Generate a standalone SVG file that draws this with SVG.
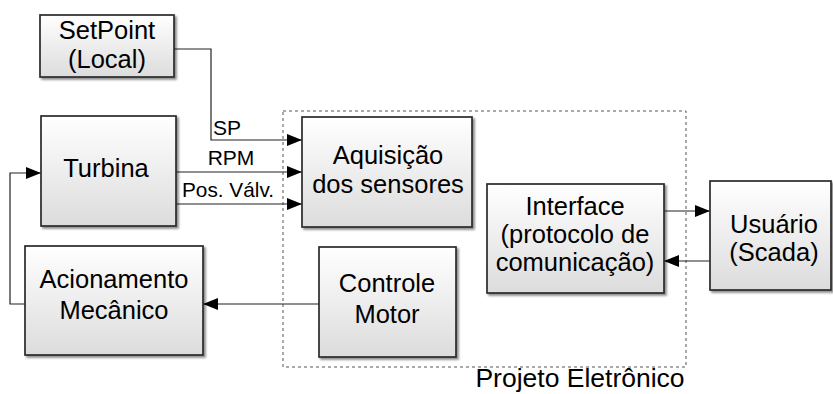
<svg xmlns="http://www.w3.org/2000/svg" width="833" height="394" viewBox="0 0 833 394">
<defs>
<linearGradient id="g" x1="0" y1="0" x2="0" y2="1">
<stop offset="0" stop-color="#ffffff"/>
<stop offset="1" stop-color="#dcdcdc"/>
</linearGradient>
<filter id="sh" x="-10%" y="-10%" width="130%" height="130%">
<feDropShadow dx="2" dy="2" stdDeviation="1.2" flood-color="#000" flood-opacity="0.45"/>
</filter>
<marker id="ah" markerUnits="userSpaceOnUse" markerWidth="16" markerHeight="12" refX="15" refY="6" orient="auto">
<path d="M0,0 L15,6 L0,12 Z" fill="#000"/>
</marker>
</defs>
<style>
.box{fill:url(#g);stroke:#2a2a2a;stroke-width:1.7;filter:url(#sh)}
.t{font-family:"Liberation Sans",Arial,sans-serif;font-size:25.5px;fill:#000;text-anchor:middle}
.lbl{font-family:"Liberation Sans",Arial,sans-serif;font-size:21px;fill:#000}
.ca{fill:none;stroke:#222;stroke-width:1.2;marker-end:url(#ah)}
</style>
<rect x="0" y="0" width="833" height="394" fill="#fff"/>
<g id="frame">
<rect x="283" y="111" width="403" height="256" fill="none" stroke="#555" stroke-width="1" stroke-dasharray="3,3"/>
<text class="t" x="580" y="387" style="font-size:26.5px">Projeto Eletrônico</text>
</g>
<g id="connectors">
<polyline class="ca" points="174,49 211,49 211,140 302,140"/>
<line class="ca" x1="176" y1="172" x2="302" y2="172"/>
<line class="ca" x1="176" y1="204" x2="302" y2="204"/>
<line class="ca" x1="664" y1="211" x2="710" y2="211"/>
<line class="ca" x1="710" y1="261" x2="664" y2="261"/>
<line class="ca" x1="319" y1="304" x2="203" y2="304"/>
<polyline class="ca" points="25,304 10,304 10,173 41,173"/>
<text class="lbl" x="213" y="135">SP</text>
<text class="lbl" x="231" y="165" text-anchor="middle">RPM</text>
<text class="lbl" x="182" y="197" textLength="92" lengthAdjust="spacingAndGlyphs">Pos. Válv.</text>
</g>
<g id="setpoint">
<rect class="box" x="40" y="15" width="134" height="62"/>
<text class="t" x="107" y="39">SetPoint</text>
<text class="t" x="107" y="68">(Local)</text>
</g>
<g id="turbina">
<rect class="box" x="41" y="116" width="135" height="110"/>
<text class="t" x="106" y="177">Turbina</text>
</g>
<g id="aquisicao">
<rect class="box" x="302" y="117" width="170" height="110"/>
<text class="t" x="388" y="164">Aquisição</text>
<text class="t" x="388" y="193">dos sensores</text>
</g>
<g id="interface">
<rect class="box" x="487" y="184" width="177" height="109"/>
<text class="t" x="575" y="215">Interface</text>
<text class="t" x="575" y="243">(protocolo de</text>
<text class="t" x="575" y="271">comunicação)</text>
</g>
<g id="usuario">
<rect class="box" x="710" y="181" width="121" height="109"/>
<text class="t" x="774" y="233">Usuário</text>
<text class="t" x="774" y="261">(Scada)</text>
</g>
<g id="acionamento">
<rect class="box" x="25" y="246" width="178" height="109"/>
<text class="t" x="114" y="288">Acionamento</text>
<text class="t" x="114" y="319">Mecânico</text>
</g>
<g id="controle">
<rect class="box" x="319" y="247" width="137" height="110"/>
<text class="t" x="387" y="292">Controle</text>
<text class="t" x="387" y="323">Motor</text>
</g>
</svg>
